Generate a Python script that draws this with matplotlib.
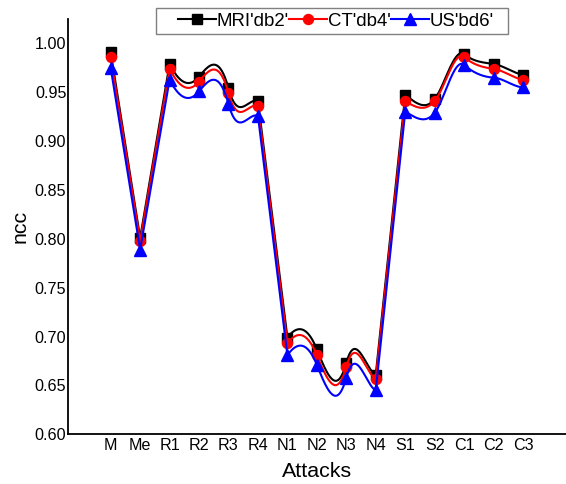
import numpy as np
import matplotlib
matplotlib.use("Agg")
import matplotlib.pyplot as plt
from matplotlib.patches import Rectangle

# attacks on the x axis and ncc values per modality/wavelet
attacks = ["M", "Me", "R1", "R2", "R3", "R4", "N1", "N2", "N3", "N4",
           "S1", "S2", "C1", "C2", "C3"]
mri_db2 = [0.991, 0.801, 0.979, 0.966, 0.954, 0.941, 0.699, 0.687, 0.673, 0.661,
           0.947, 0.943, 0.989, 0.979, 0.968]
ct_db4 = [0.986, 0.798, 0.974, 0.961, 0.949, 0.936, 0.693, 0.681, 0.669, 0.657,
          0.941, 0.941, 0.986, 0.974, 0.963]
us_bd6 = [0.975, 0.789, 0.963, 0.951, 0.938, 0.926, 0.681, 0.671, 0.658, 0.645,
          0.930, 0.929, 0.978, 0.965, 0.955]
y_ticks = [0.60, 0.65, 0.70, 0.75, 0.80, 0.85, 0.90, 0.95, 1.00]


def spline_slopes(y):
    # first derivatives of the natural cubic spline (unit spacing)
    n = len(y)
    A = np.zeros((n, n))
    r = np.zeros(n)
    A[0, 0], A[0, 1] = 2, 1
    r[0] = 3 * (y[1] - y[0])
    A[-1, -2], A[-1, -1] = 1, 2
    r[-1] = 3 * (y[-1] - y[-2])
    for i in range(1, n - 1):
        A[i, i - 1], A[i, i], A[i, i + 1] = 1, 4, 1
        r[i] = 3 * (y[i + 1] - y[i - 1])
    return np.linalg.solve(A, r)


def wavy_line(y, jump=0.1, clip=0.11, n=40):
    """big steps are straight; small steps get a wobbly hermite piece
    (tangents taken one point ahead), like the smoothing in the paper figure"""
    y = np.asarray(y, float)
    m = spline_slopes(y)
    m = np.clip(np.append(m[1:], m[-1]), -clip, clip)
    d = np.diff(y)
    t = np.linspace(0, 1, n)
    h00 = 2 * t**3 - 3 * t**2 + 1
    h10 = t**3 - 2 * t**2 + t
    h01 = -2 * t**3 + 3 * t**2
    h11 = t**3 - t**2
    xs, ys = [], []
    for i in range(len(y) - 1):
        xs.append(i + t)
        if abs(d[i]) > jump:
            ys.append(y[i] + d[i] * t)
            continue
        m0 = m[i]
        m1 = m[i + 1]
        if i + 1 < len(d) and abs(d[i + 1]) > jump:
            m1 = d[i]
        ys.append(h00 * y[i] + h10 * m0 + h01 * y[i + 1] + h11 * m1)
    return np.concatenate(xs), np.concatenate(ys)


plt.rcParams['font.family'] = ['Liberation Sans', 'DejaVu Sans']

fig = plt.figure(figsize=(5.66, 4.84), dpi=100)
ax = fig.add_axes([67.7 / 566, 1 - 434.3 / 484, (566 - 67.7) / 566, (434.3 - 19) / 484])

x = np.arange(len(attacks))
series = [
    (mri_db2, "black", "s", 6.5, "MRI'db2'"),
    (ct_db4, "red", "o", 7.2, "CT'db4'"),
    (us_bd6, "blue", "^", 8.0, "US'bd6'"),
]
handles = []
for vals, col, mk, ms, lab in series:
    cx, cy = wavy_line(vals)
    ax.plot(cx, cy, color=col, lw=1.5, solid_joinstyle='round')
    ax.plot(x, vals, linestyle='none', marker=mk, ms=ms, color=col, mec=col)
    h, = ax.plot([], [], color=col, lw=1.5, marker=mk, ms=ms, mec=col, label=lab)
    handles.append(h)

ax.set_xlim(-1.46, 15.46)
ax.set_ylim(0.6, 1.025)
ax.set_xticks(x)
ax.set_xticklabels(attacks)
ax.set_yticks(y_ticks)
ax.set_yticklabels([f"{v:.2f}" for v in y_ticks])
ax.tick_params(length=0, labelsize=11.6)
ax.tick_params(axis='y', pad=1)
ax.tick_params(axis='x', pad=3)
for s in ['top', 'right']:
    ax.spines[s].set_visible(False)
for s in ['left', 'bottom']:
    ax.spines[s].set_linewidth(1.3)

ax.set_xlabel("Attacks", fontsize=15.4, labelpad=6)
ax.set_ylabel("ncc", fontsize=15.4, labelpad=4)

# legend box: origin style with a wide left margin
fig.patches.append(Rectangle((156 / 566, 1 - 34 / 484), 352 / 566, 26 / 484,
                             transform=fig.transFigure, fill=True, facecolor='white',
                             edgecolor='#808080', lw=1.0, zorder=5))
leg = fig.legend(handles=handles, loc='center left', bbox_to_anchor=(176 / 566, 1 - 21 / 484),
                 ncol=3, fontsize=13.4, handlelength=2.05, handletextpad=0.05,
                 columnspacing=0.0, borderpad=0.1, borderaxespad=0, frameon=False)
leg.set_zorder(6)

fig.savefig("out.png", dpi=100)
